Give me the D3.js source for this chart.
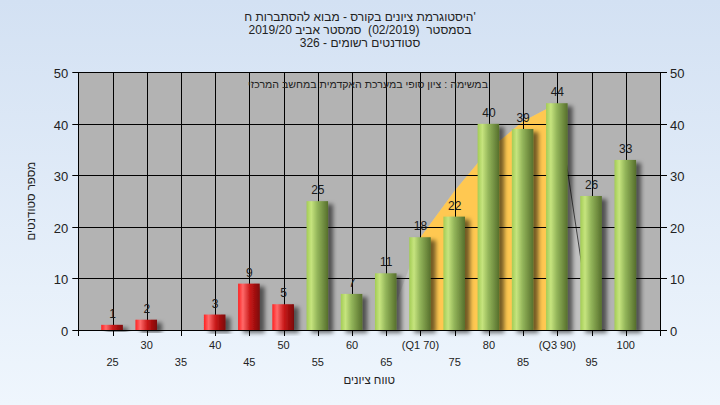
<!DOCTYPE html>
<html><head><meta charset="utf-8">
<script src="https://cdn.jsdelivr.net/npm/d3@7"></script>
<style>html,body{margin:0;padding:0;}svg{display:block;}text{white-space:pre;}</style>
</head><body>
<script>
const categories = [25,30,35,40,45,50,55,60,65,70,75,80,85,90,95,100];
const counts = [1,2,0,3,9,5,25,7,11,18,22,40,39,44,26,33];
const tickLabels = ["25","30","35","40","45","50","55","60","65","(Q1 70)","75","80","85","(Q3 90)","95","100"];
const yTicks = [0,10,20,30,40,50];
const curveX = [65,70,75,80,85,90,95];
const curveY = [0,18,27,35,40.5,44,0];
const quartiles = [70,90];
const passMark = 55;
const titleLines = ["היסטוגרמת ציונים בקורס - מבוא להסתברות ח'","בסמסטר  (02/2019)  סמסטר אביב 2019/20","סטודנטים רשומים - 326"];
const noteText = "במשימה : ציון סופי במערכת האקדמית במחשב המרכזי";
const xTitle = "טווח ציונים";
const yTitle = "מספר סטודנטים";

const W = 720, H = 405;
const m = {l:78.3, r:660, t:72.3, b:330};
const svg = d3.select("body").append("svg").attr("width",W).attr("height",H);
const defs = svg.append("defs");
const bg = defs.append("linearGradient").attr("id","bg").attr("x1",0).attr("y1",0).attr("x2",0).attr("y2",1);
bg.append("stop").attr("offset","0%").attr("stop-color","#d3e1f3");
bg.append("stop").attr("offset","100%").attr("stop-color","#eff6fd");
const gG = defs.append("linearGradient").attr("id","gG");
[["0%","#a3cc55"],["22%","#c6e47e"],["50%","#93b55a"],["100%","#566f2c"]].forEach(s=>gG.append("stop").attr("offset",s[0]).attr("stop-color",s[1]));
const gR = defs.append("linearGradient").attr("id","gR");
[["0%","#ff2020"],["22%","#ff6a6a"],["55%","#c81818"],["100%","#7c0606"]].forEach(s=>gR.append("stop").attr("offset",s[0]).attr("stop-color",s[1]));
const f = defs.append("filter").attr("id","sh").attr("x","-30%").attr("y","-10%").attr("width","180%").attr("height","130%");
f.append("feDropShadow").attr("dx",5).attr("dy",3).attr("stdDeviation",2).attr("flood-color","#000").attr("flood-opacity",0.55);
defs.append("clipPath").attr("id","pc").append("rect").attr("x",m.l).attr("y",m.t).attr("width",m.r-m.l).attr("height",m.b-m.t);

svg.append("rect").attr("width",W).attr("height",H).attr("fill","url(#bg)");

const x = d3.scaleLinear().domain([20,105]).range([m.l,m.r]);
const y = d3.scaleLinear().domain([0,50]).range([m.b,m.t]);
const font = "'Liberation Sans', Arial, sans-serif";

svg.append("rect").attr("x",m.l).attr("y",m.t).attr("width",m.r-m.l).attr("height",m.b-m.t).attr("fill","#b3b3b3");

const pts = curveX.map((c,i)=>[c,curveY[i]]);
const area = d3.area().x(d=>x(d[0])).y0(y(0)).y1(d=>y(d[1]));
const pg = svg.append("g").attr("clip-path","url(#pc)");
pg.append("path").datum(pts).attr("d",area).attr("fill","#c2c2c2");
const inner = pts.filter(d=>d[0]>=quartiles[0] && d[0]<=quartiles[1]);
pg.append("path").datum(inner).attr("d",area).attr("fill","#ffc851");
pg.append("path").datum(pts.slice(-2).concat([[97,0]])).attr("d",d3.line().x(d=>x(d[0])).y(d=>y(d[1]))).attr("fill","none").attr("stroke","#444").attr("stroke-width",1);

const grid = svg.append("g").attr("stroke","#000").attr("stroke-width",1);
yTicks.forEach(t=>grid.append("line").attr("x1",m.l).attr("x2",m.r).attr("y1",Math.round(y(t))+0.5).attr("y2",Math.round(y(t))+0.5));
categories.forEach(c=>grid.append("line").attr("x1",Math.round(x(c))+0.5).attr("x2",Math.round(x(c))+0.5).attr("y1",m.t).attr("y2",m.b));
svg.append("rect").attr("x",Math.round(m.l)+0.5).attr("y",Math.round(m.t)+0.5).attr("width",Math.round(m.r-m.l)).attr("height",Math.round(m.b-m.t)).attr("fill","none").attr("stroke","#000");

svg.append("text").attr("x",488).attr("y",88).attr("text-anchor","end").attr("font-family",font).attr("font-size",10.6).attr("fill","#222").text(noteText);

const step = x(25)-x(20);
const bw = step*0.63;
const bars = svg.append("g");
categories.forEach((c,i)=>{
  const v = counts[i];
  if(v>0){
    bars.append("rect").attr("x",x(c)-bw/2-0.5).attr("y",y(v)).attr("width",bw).attr("height",y(0)-y(v))
      .attr("fill",c<passMark?"url(#gR)":"url(#gG)").attr("filter","url(#sh)");
  }
});
categories.forEach((c,i)=>{
  const v = counts[i];
  if(v>0){
    svg.append("text").attr("x",x(c)).attr("y",y(v)-7).attr("text-anchor","middle").attr("font-family",font).attr("font-size",12).attr("fill","#1a1a1a").text(v);
  }
});

const ax = svg.append("g").attr("font-family",font);
yTicks.forEach(t=>{
  const yy = Math.round(y(t))+0.5;
  ax.append("line").attr("x1",m.l-6).attr("x2",m.l).attr("y1",yy).attr("y2",yy).attr("stroke","#000");
  ax.append("line").attr("x1",m.r).attr("x2",m.r+7).attr("y1",yy).attr("y2",yy).attr("stroke","#000");
  ax.append("text").attr("x",m.l-10).attr("y",yy+5).attr("text-anchor","end").attr("font-size",13).attr("fill","#222").text(t);
  ax.append("text").attr("x",m.r+10).attr("y",yy+5).attr("text-anchor","start").attr("font-size",13).attr("fill","#222").text(t);
});
d3.range(20,106,5).forEach(t=>{
  const xx = Math.round(x(t))+0.5;
  ax.append("line").attr("x1",xx).attr("x2",xx).attr("y1",m.b).attr("y2",m.b+6).attr("stroke","#000");
});
categories.forEach((c,i)=>{
  ax.append("text").attr("x",x(c)).attr("y",i%2===1?349:366).attr("text-anchor","middle").attr("font-size",11).attr("fill","#222").text(tickLabels[i]);
});
ax.append("text").attr("x",(m.l+m.r)/2).attr("y",384).attr("text-anchor","middle").attr("font-size",11.5).attr("fill","#222").text(xTitle);
ax.append("text").attr("transform",`translate(35,${(m.t+m.b)/2}) rotate(-90)`).attr("text-anchor","middle").attr("font-size",11.5).attr("fill","#222").text(yTitle);

titleLines.forEach((t,i)=>svg.append("text").attr("x",360).attr("y",21+i*13).attr("text-anchor","middle").attr("font-family",font).attr("font-size",12).attr("fill","#222").text(t));
</script>
</body></html>
